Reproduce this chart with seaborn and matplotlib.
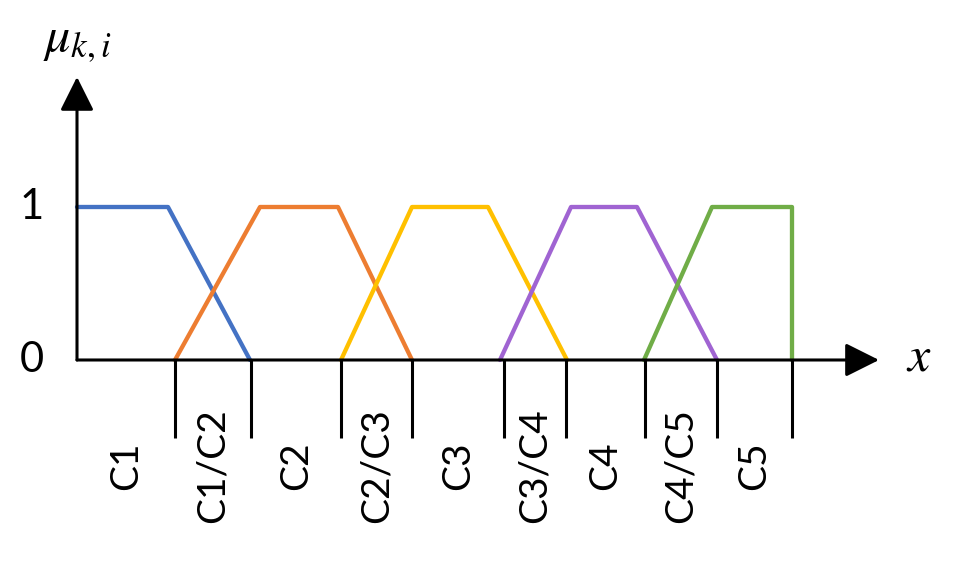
import seaborn as sns
import matplotlib.pyplot as plt
import numpy as np
import pandas as pd

# Breakpoints of the trapezoid membership functions (x in arbitrary units)
sets = ["C1", "C2", "C3", "C4", "C5"]
set_x = [
    [0.0, 0.91, 1.73],
    [0.98, 1.83, 2.61, 3.35],
    [2.64, 3.35, 4.11, 4.90],
    [4.23, 4.94, 5.60, 6.40],
    [5.67, 6.35, 7.15, 7.15],
]
set_mu = [
    [1, 1, 0],
    [0, 1, 1, 0],
    [0, 1, 1, 0],
    [0, 1, 1, 0],
    [0, 1, 1, 0],
]
colors = ["#4472C4", "#ED7D31", "#FFC000", "#A064D2", "#70AD47"]

# Region boundaries on the x-axis and their labels
bounds = [0.98, 1.74, 2.64, 3.35, 4.27, 4.89, 5.68, 6.40, 7.15]
regions = ["C1", "C1/C2", "C2", "C2/C3", "C3", "C3/C4", "C4", "C4/C5", "C5"]

rows = []
for name, xs, ys in zip(sets, set_x, set_mu):
    for xv, yv in zip(xs, ys):
        rows.append({"x": xv, "mu": yv, "set": name})
df = pd.DataFrame(rows)

sns.set_style("white")
plt.rcParams["font.family"] = ["Lato", "DejaVu Sans"]
plt.rcParams["mathtext.fontset"] = "stix"
plt.rcParams["text.color"] = "black"

fig = plt.figure(figsize=(9.54, 5.65), dpi=100)
ax = fig.add_axes([0, 0, 1, 1])

sns.lineplot(data=df, x="x", y="mu", hue="set", palette=colors,
             sort=False, estimator=None, legend=False, linewidth=3.1, ax=ax)

# axes with arrows
arrow = dict(arrowstyle="-|>,head_length=0.8,head_width=0.4", lw=2.2,
             color="black", mutation_scale=26, shrinkA=0, shrinkB=0)
ax.annotate("", xy=(0, 1.85), xytext=(0, 0), arrowprops=arrow)
ax.annotate("", xy=(8.02, 0), xytext=(0, 0), arrowprops=arrow)

# boundary ticks below the axis
for b in bounds:
    ax.plot([b, b], [0, -0.51], color="black", lw=2.2, solid_capstyle="butt")

# region labels centred between boundaries
edges = [0.0] + bounds
for i, lab in enumerate(regions):
    mid = (edges[i] + edges[i + 1]) / 2
    ax.text(mid, -0.69, lab, rotation=90, ha="center", va="center",
            fontsize=28, color="black")

ax.text(-0.45, 1, "1", ha="center", va="center", fontsize=30, color="black")
ax.text(-0.45, 0, "0", ha="center", va="center", fontsize=30, color="black")
ax.text(0.0, 2.08, r"$\mu_{k,i}$", ha="center", va="center", fontsize=36)
ax.text(8.42, 0.02, r"$x$", ha="center", va="center", fontsize=36)

ax.set_xlim(-0.77, 8.77)
ax.set_ylim(-1.34, 2.353)
ax.axis("off")

fig.savefig("out.png", dpi=100)
